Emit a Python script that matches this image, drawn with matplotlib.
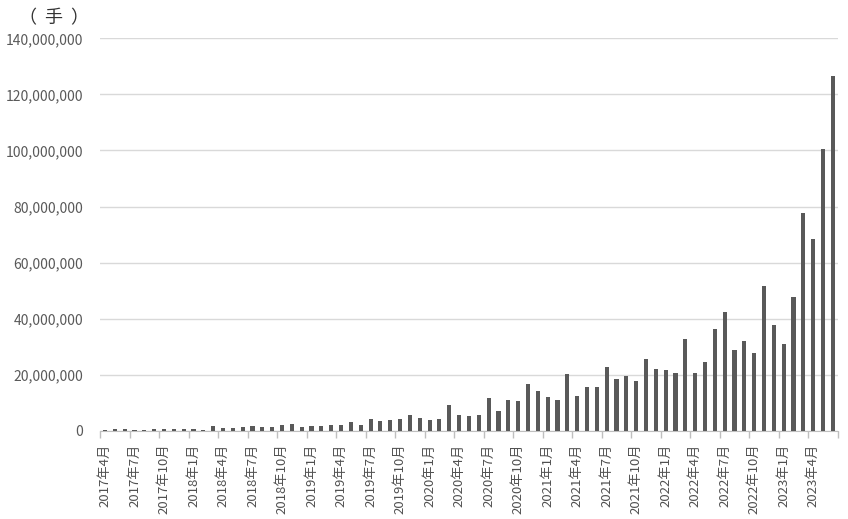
import matplotlib
matplotlib.use('Agg')
import matplotlib.pyplot as plt
import numpy as np
from matplotlib.ticker import FuncFormatter

plt.rcParams['font.family'] = ['Noto Sans CJK SC', 'DejaVu Sans']

# monthly volume, 2017/4 .. 2023/6 (millions of lots)
start_year, start_month = 2017, 4
volume_m = [
    0.3, 0.6, 0.6, 0.3, 0.2, 0.6, 0.6, 0.7, 0.6, 0.6, 0.5, 1.8,
    1.0, 1.0, 1.3, 1.8, 1.3, 1.3, 2.1, 2.6, 1.3, 1.8, 1.8, 2.1,
    2.1, 3.1, 2.1, 4.2, 3.6, 3.9, 4.3, 5.6, 4.8, 3.8, 4.3, 9.1,
    5.8, 5.4, 5.7, 11.9, 7.2, 11.0, 10.6, 16.7, 14.3, 12.2, 11.0, 20.4,
    12.6, 15.6, 15.6, 22.9, 18.4, 19.6, 17.9, 25.7, 22.1, 21.6, 20.8, 32.8,
    20.8, 24.6, 36.3, 42.5, 29.0, 32.2, 27.7, 51.6, 37.7, 31.0, 47.9, 77.8,
    68.3, 100.7, 126.6,
]
values = np.array(volume_m) * 1e6

labels = []
for i in range(len(values)):
    m = start_month - 1 + i
    labels.append(f"{start_year + m // 12}年{m % 12 + 1}月")

x = np.arange(len(values))

fig = plt.figure(figsize=(8.48, 5.19), dpi=100)
ax = fig.add_axes([0.118, 0.1696, 0.870, 0.7566])

ax.bar(x, values, width=0.42, color='#595959', zorder=3)

ax.set_xlim(-0.5, len(values) - 0.5)
ax.set_ylim(0, 140e6)
ax.set_yticks(np.arange(0, 140e6 + 1, 20e6))
ax.yaxis.set_major_formatter(FuncFormatter(lambda v, p: f"{int(v):,}"))
ax.grid(axis='y', color='#d9d9d9', linewidth=1.0, zorder=0)
ax.tick_params(axis='y', length=0, labelsize=10, labelcolor='#595959', pad=12)

ax.set_xticks(x[::3])
ax.set_xticklabels(labels[::3], rotation=90, fontsize=9.5, color='#505050')
ax.set_xticks(np.arange(-0.5, len(values), 3), minor=True)
ax.tick_params(axis='x', which='major', length=0, pad=9)
ax.tick_params(axis='x', which='minor', length=5, color='#bfbfbf', width=1)

for s in ['top', 'right', 'left']:
    ax.spines[s].set_visible(False)
ax.spines['bottom'].set_color('#bfbfbf')

fig.text(0.022, 0.965, '（  手  ）', fontsize=13, color='#333333', va='center')

fig.savefig('out.png', dpi=100, facecolor='white')
